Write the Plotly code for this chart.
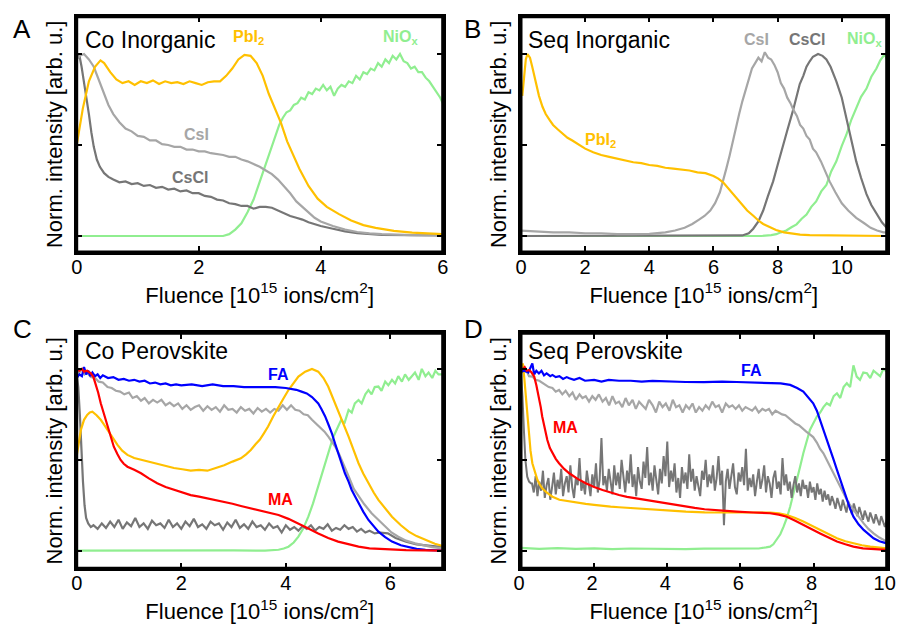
import plotly.graph_objects as go

# ---------------- Panel A : Co Inorganic ----------------
A_PbI2_x = [0, 0.1, 0.2, 0.3, 0.39, 0.45, 0.55, 0.65, 0.75, 0.85, 0.95, 1.05, 1.15, 1.25, 1.35, 1.45, 1.55, 1.65, 1.75, 1.85, 1.95, 2.05, 2.15, 2.25, 2.35, 2.45, 2.55, 2.65, 2.75, 2.85, 2.95, 3.05, 3.15, 3.25, 3.35, 3.45, 3.55, 3.65, 3.8, 3.95, 4.1, 4.3, 4.5, 4.7, 4.9, 5.2, 5.5, 5.8, 6.0]
A_PbI2_y = [0.50, 0.70, 0.85, 0.93, 0.965, 0.95, 0.90, 0.86, 0.84, 0.85, 0.83, 0.85, 0.84, 0.855, 0.835, 0.85, 0.84, 0.845, 0.835, 0.85, 0.84, 0.83, 0.845, 0.85, 0.85, 0.88, 0.92, 0.97, 0.995, 0.99, 0.95, 0.88, 0.78, 0.70, 0.62, 0.52, 0.44, 0.37, 0.275, 0.205, 0.16, 0.12, 0.085, 0.06, 0.045, 0.028, 0.018, 0.012, 0.01]

A_CsI_x = [0, 0.05, 0.12, 0.2, 0.28, 0.36, 0.45, 0.52, 0.6, 0.7, 0.8, 0.9, 1.0, 1.1, 1.2, 1.3, 1.4, 1.5, 1.6, 1.7, 1.8, 1.9, 2.0, 2.1, 2.2, 2.3, 2.4, 2.5, 2.6, 2.7, 2.8, 2.9, 3.0, 3.1, 3.2, 3.3, 3.4, 3.5, 3.6, 3.7, 3.8, 3.9, 4.0, 4.2, 4.4, 4.6, 4.8, 5.0, 5.5, 6.0]
A_CsI_y = [0.97, 0.99, 1.0, 0.97, 0.93, 0.86, 0.78, 0.72, 0.67, 0.625, 0.59, 0.575, 0.55, 0.545, 0.525, 0.525, 0.505, 0.5, 0.49, 0.49, 0.475, 0.475, 0.465, 0.465, 0.455, 0.45, 0.445, 0.435, 0.435, 0.42, 0.41, 0.395, 0.38, 0.36, 0.34, 0.31, 0.275, 0.235, 0.19, 0.16, 0.125, 0.10, 0.08, 0.055, 0.035, 0.022, 0.014, 0.01, 0.005, 0.003]

A_CsCl_x = [0, 0.04, 0.08, 0.12, 0.16, 0.2, 0.24, 0.28, 0.33, 0.38, 0.45, 0.52, 0.6, 0.7, 0.8, 0.9, 1.0, 1.1, 1.2, 1.3, 1.4, 1.5, 1.6, 1.7, 1.8, 1.9, 2.0, 2.1, 2.2, 2.3, 2.4, 2.5, 2.6, 2.7, 2.8, 2.9, 3.0, 3.1, 3.2, 3.3, 3.4, 3.5, 3.6, 3.7, 3.8, 3.9, 4.0, 4.2, 4.4, 4.6, 4.8, 5.0, 5.5, 6.0]
A_CsCl_y = [0.98, 1.0, 0.93, 0.85, 0.76, 0.67, 0.57, 0.49, 0.42, 0.38, 0.345, 0.325, 0.31, 0.295, 0.30, 0.285, 0.29, 0.275, 0.28, 0.265, 0.27, 0.255, 0.26, 0.245, 0.25, 0.235, 0.235, 0.22, 0.215, 0.2, 0.195, 0.18, 0.175, 0.165, 0.165, 0.15, 0.16, 0.16, 0.155, 0.14, 0.125, 0.11, 0.10, 0.09, 0.075, 0.065, 0.055, 0.04, 0.025, 0.015, 0.01, 0.006, 0.004, 0.003]

A_NiOx_x = [0, 1.0, 2.0, 2.4, 2.5, 2.6, 2.7, 2.8, 2.9, 2.96, 3.02, 3.08, 3.14, 3.2, 3.26, 3.32, 3.38, 3.44, 3.5, 3.56, 3.62, 3.68, 3.74, 3.8, 3.86, 3.92, 3.98, 4.04, 4.1, 4.16, 4.22, 4.28, 4.34, 4.4, 4.46, 4.52, 4.58, 4.64, 4.7, 4.76, 4.82, 4.88, 4.94, 5.0, 5.06, 5.12, 5.18, 5.24, 5.3, 5.36, 5.42, 5.48, 5.54, 5.6, 5.66, 5.72, 5.78, 5.84, 5.9, 5.96, 6.0]
A_NiOx_y = [0.0, 0.0, 0.0, 0.0, 0.01, 0.035, 0.07, 0.13, 0.2, 0.26, 0.32, 0.37, 0.44, 0.5, 0.56, 0.61, 0.65, 0.68, 0.69, 0.72, 0.73, 0.76, 0.75, 0.79, 0.78, 0.81, 0.8, 0.83, 0.8, 0.82, 0.77, 0.81, 0.83, 0.82, 0.85, 0.84, 0.88, 0.86, 0.9, 0.89, 0.92, 0.91, 0.95, 0.93, 0.97, 0.95, 0.99, 0.97, 1.0, 0.96, 0.95, 0.92, 0.93, 0.9, 0.9, 0.87, 0.85, 0.82, 0.79, 0.76, 0.73]

# ---------------- Panel B : Seq Inorganic ----------------
B_PbI2_x = [0.04, 0.1, 0.15, 0.2, 0.28, 0.35, 0.45, 0.56, 0.67, 0.77, 0.9, 1.0, 1.15, 1.3, 1.45, 1.6, 1.8, 2.0, 2.25, 2.5, 2.75, 3.0, 3.25, 3.5, 3.75, 4.0, 4.25, 4.5, 4.75, 5.0, 5.25, 5.5, 5.75, 6.0, 6.15, 6.3, 6.45, 6.6, 6.75, 6.9, 7.05, 7.25, 7.4, 7.55, 7.75, 7.95, 8.2, 8.4, 8.7, 9.0, 10.0, 11.4]
B_PbI2_y = [0.77, 0.9, 0.97, 1.0, 0.98, 0.93, 0.85, 0.77, 0.71, 0.67, 0.635, 0.61, 0.585, 0.56, 0.54, 0.525, 0.5, 0.48, 0.46, 0.445, 0.435, 0.425, 0.415, 0.405, 0.4, 0.39, 0.385, 0.375, 0.37, 0.365, 0.36, 0.35, 0.345, 0.33, 0.315, 0.295, 0.265, 0.23, 0.2, 0.17, 0.14, 0.11, 0.085, 0.066, 0.048, 0.033, 0.02, 0.014, 0.008, 0.005, 0.002, 0.0]

B_CsI_x = [0, 0.5, 1.0, 1.5, 2.0, 2.5, 3.0, 3.5, 4.0, 4.5, 4.8, 5.1, 5.34, 5.55, 5.72, 5.9, 6.05, 6.2, 6.3, 6.4, 6.5, 6.6, 6.7, 6.8, 6.9, 7.0, 7.1, 7.2, 7.3, 7.4, 7.5, 7.6, 7.7, 7.8, 7.9, 8.0, 8.1, 8.2, 8.3, 8.4, 8.5, 8.6, 8.7, 8.8, 8.9, 9.0, 9.1, 9.2, 9.35, 9.5, 9.62, 9.8, 10.0, 10.2, 10.45, 10.7, 10.9, 11.1, 11.3, 11.4]
B_CsI_y = [0.03, 0.025, 0.02, 0.02, 0.015, 0.015, 0.01, 0.01, 0.012, 0.02, 0.03, 0.045, 0.066, 0.09, 0.11, 0.14, 0.18, 0.24, 0.3, 0.37, 0.44, 0.52, 0.6, 0.67, 0.74, 0.8, 0.86, 0.92, 0.95, 0.98, 0.96, 1.01, 0.98, 0.97, 0.94, 0.9, 0.84, 0.81, 0.76, 0.73, 0.69, 0.66, 0.61, 0.59, 0.55, 0.53, 0.48, 0.46, 0.41, 0.35, 0.3, 0.24, 0.18, 0.14, 0.1, 0.07, 0.045, 0.03, 0.02, 0.02]

B_CsCl_x = [0, 6.5, 6.9, 7.1, 7.24, 7.4, 7.55, 7.7, 7.86, 8.0, 8.17, 8.3, 8.48, 8.6, 8.69, 8.8, 8.9, 9.0, 9.1, 9.26, 9.4, 9.52, 9.65, 9.83, 10.0, 10.14, 10.3, 10.45, 10.6, 10.77, 10.92, 11.08, 11.25, 11.4]
B_CsCl_y = [0.0, 0.0, 0.003, 0.015, 0.04, 0.08, 0.14, 0.22, 0.3, 0.39, 0.49, 0.58, 0.69, 0.78, 0.835, 0.88, 0.93, 0.96, 0.985, 1.0, 0.99, 0.97, 0.93, 0.85, 0.76, 0.65, 0.53, 0.41, 0.32, 0.23, 0.17, 0.12, 0.075, 0.045]

B_NiOx_x = [0, 7.5, 7.8, 7.96, 8.1, 8.27, 8.43, 8.59, 8.75, 8.9, 9.05, 9.2, 9.36, 9.52, 9.67, 9.83, 10.0, 10.14, 10.3, 10.45, 10.6, 10.77, 10.92, 11.08, 11.2, 11.34, 11.4]
B_NiOx_y = [0.0, 0.0, 0.005, 0.01, 0.02, 0.03, 0.048, 0.064, 0.095, 0.118, 0.16, 0.19, 0.245, 0.28, 0.355, 0.41, 0.495, 0.555, 0.64, 0.7, 0.765, 0.81, 0.875, 0.92, 0.965, 1.0, 0.97]

# ---------------- Panel C : Co Perovskite ----------------
C_FA_x = [0, 0.05, 0.1, 0.14, 0.18, 0.22, 0.26, 0.3, 0.35, 0.4, 0.45, 0.5, 0.6, 0.7, 0.8, 0.9, 1.0, 1.1, 1.2, 1.3, 1.4, 1.5, 1.6, 1.7, 1.8, 1.9, 2.0, 2.2, 2.4, 2.6, 2.8, 3.0, 3.2, 3.4, 3.6, 3.8, 4.0, 4.1, 4.2, 4.3, 4.4, 4.5, 4.56, 4.62, 4.68, 4.75, 4.82, 4.88, 4.94, 5.0, 5.07, 5.13, 5.2, 5.26, 5.33, 5.39, 5.48, 5.58, 5.68, 5.77, 5.9, 6.03, 6.2, 6.35, 6.5, 6.67, 7.0]
C_FA_y = [0.95, 0.97, 0.96, 1.01, 0.97, 0.99, 0.96, 0.98, 0.96, 0.97, 0.95, 0.965, 0.95, 0.955, 0.94, 0.945, 0.935, 0.94, 0.93, 0.935, 0.92, 0.925, 0.915, 0.92, 0.91, 0.915, 0.91, 0.915, 0.905, 0.915, 0.905, 0.905, 0.9, 0.9, 0.9, 0.9, 0.895, 0.89, 0.885, 0.875, 0.865, 0.845, 0.83, 0.81, 0.78, 0.74, 0.69, 0.646, 0.59, 0.536, 0.48, 0.426, 0.38, 0.334, 0.295, 0.261, 0.215, 0.169, 0.135, 0.105, 0.075, 0.05, 0.03, 0.018, 0.01, 0.004, 0.0]

C_Lgray_x = [0, 0.05, 0.1, 0.15, 0.2, 0.27, 0.35, 0.42, 0.5, 0.59, 0.67, 0.75, 0.83, 0.91, 1.0, 1.07, 1.15, 1.23, 1.3, 1.38, 1.46, 1.54, 1.62, 1.7, 1.78, 1.86, 1.94, 2.02, 2.1, 2.18, 2.26, 2.34, 2.42, 2.5, 2.58, 2.66, 2.74, 2.82, 2.9, 2.98, 3.06, 3.14, 3.22, 3.3, 3.38, 3.46, 3.54, 3.62, 3.7, 3.78, 3.86, 3.94, 4.02, 4.1, 4.18, 4.26, 4.34, 4.42, 4.5, 4.58, 4.66, 4.74, 4.82, 4.88, 4.95, 5.02, 5.1, 5.2, 5.3, 5.39, 5.5, 5.64, 5.78, 5.9, 6.02, 6.15, 6.3, 6.47, 6.65, 6.8, 7.0]
C_Lgray_y = [0.99, 0.98, 1.0, 0.97, 0.98, 0.955, 0.95, 0.93, 0.925, 0.9, 0.895, 0.88, 0.875, 0.86, 0.87, 0.84, 0.85, 0.825, 0.84, 0.81, 0.83, 0.815, 0.83, 0.8, 0.815, 0.795, 0.81, 0.78, 0.8, 0.775, 0.79, 0.8, 0.77, 0.795, 0.775, 0.79, 0.765, 0.8, 0.775, 0.78, 0.76, 0.79, 0.77, 0.78, 0.755, 0.785, 0.765, 0.78, 0.76, 0.78, 0.77, 0.8, 0.775, 0.8, 0.775, 0.77, 0.75, 0.745, 0.72, 0.7, 0.675, 0.655, 0.625, 0.6, 0.57, 0.53, 0.48, 0.41, 0.34, 0.3, 0.255, 0.206, 0.165, 0.132, 0.1, 0.077, 0.055, 0.04, 0.028, 0.02, 0.013]

C_PbI2_x = [0, 0.04, 0.08, 0.14, 0.2, 0.25, 0.3, 0.38, 0.46, 0.52, 0.59, 0.68, 0.78, 0.87, 0.97, 1.1, 1.23, 1.38, 1.54, 1.7, 1.86, 2.02, 2.18, 2.34, 2.5, 2.66, 2.82, 2.98, 3.14, 3.24, 3.33, 3.42, 3.5, 3.58, 3.66, 3.76, 3.86, 3.96, 4.05, 4.15, 4.24, 4.37, 4.5, 4.62, 4.72, 4.81, 4.9, 5.0, 5.1, 5.2, 5.3, 5.39, 5.48, 5.58, 5.68, 5.77, 5.9, 6.03, 6.2, 6.35, 6.5, 6.67, 6.85, 7.0]
C_PbI2_y = [0.52, 0.6, 0.665, 0.72, 0.747, 0.76, 0.765, 0.745, 0.72, 0.695, 0.664, 0.62, 0.582, 0.55, 0.527, 0.51, 0.5, 0.49, 0.48, 0.465, 0.455, 0.448, 0.44, 0.445, 0.44, 0.455, 0.47, 0.49, 0.508, 0.53, 0.554, 0.585, 0.61, 0.645, 0.683, 0.74, 0.793, 0.84, 0.884, 0.925, 0.958, 0.985, 1.0, 0.985, 0.95, 0.903, 0.84, 0.774, 0.7, 0.627, 0.55, 0.481, 0.425, 0.371, 0.32, 0.279, 0.23, 0.187, 0.14, 0.105, 0.08, 0.059, 0.038, 0.026]

C_MA_x = [0, 0.05, 0.1, 0.14, 0.2, 0.27, 0.32, 0.36, 0.41, 0.46, 0.52, 0.59, 0.65, 0.71, 0.78, 0.84, 0.9, 0.97, 1.1, 1.23, 1.38, 1.54, 1.7, 1.86, 2.02, 2.18, 2.34, 2.5, 2.66, 2.82, 2.98, 3.14, 3.3, 3.5, 3.7, 3.86, 4.05, 4.24, 4.43, 4.62, 4.81, 5.0, 5.2, 5.39, 5.6, 5.9, 6.3, 7.0]
C_MA_y = [1.0, 0.99, 1.0, 0.985, 0.99, 0.976, 0.955, 0.921, 0.87, 0.811, 0.75, 0.683, 0.625, 0.572, 0.53, 0.499, 0.478, 0.462, 0.445, 0.426, 0.398, 0.371, 0.35, 0.334, 0.32, 0.306, 0.297, 0.288, 0.279, 0.27, 0.258, 0.246, 0.235, 0.224, 0.21, 0.196, 0.175, 0.15, 0.122, 0.095, 0.07, 0.05, 0.034, 0.022, 0.013, 0.007, 0.003, 0.0]

C_Dgray_x = [0, 0.03, 0.06, 0.09, 0.12, 0.15, 0.18, 0.22, 0.27, 0.32, 0.4, 0.48, 0.56, 0.64, 0.72, 0.8, 0.88, 0.96, 1.04, 1.12, 1.2, 1.28, 1.36, 1.44, 1.52, 1.6, 1.68, 1.76, 1.84, 1.92, 2.0, 2.08, 2.16, 2.24, 2.32, 2.4, 2.48, 2.56, 2.64, 2.72, 2.8, 2.88, 2.96, 3.04, 3.12, 3.2, 3.28, 3.36, 3.44, 3.52, 3.6, 3.68, 3.76, 3.84, 3.92, 4.0, 4.08, 4.16, 4.24, 4.32, 4.4, 4.48, 4.56, 4.64, 4.72, 4.8, 4.88, 4.96, 5.04, 5.12, 5.2, 5.28, 5.36, 5.44, 5.52, 5.6, 5.7, 5.8, 5.95, 6.1, 6.3, 6.5, 6.7, 7.0]
C_Dgray_y = [0.97, 0.9, 0.75, 0.55, 0.38, 0.25, 0.18, 0.15, 0.13, 0.14, 0.12, 0.15, 0.125, 0.16, 0.13, 0.17, 0.12, 0.155, 0.135, 0.18, 0.13, 0.15, 0.12, 0.165, 0.14, 0.15, 0.125, 0.17, 0.13, 0.15, 0.12, 0.16, 0.135, 0.175, 0.13, 0.145, 0.12, 0.16, 0.14, 0.15, 0.115, 0.155, 0.13, 0.17, 0.125, 0.145, 0.12, 0.16, 0.13, 0.14, 0.115, 0.15, 0.125, 0.135, 0.1, 0.14, 0.115, 0.13, 0.11, 0.135, 0.12, 0.14, 0.11, 0.13, 0.12, 0.145, 0.11, 0.125, 0.115, 0.14, 0.12, 0.13, 0.105, 0.12, 0.1, 0.11, 0.095, 0.1, 0.095, 0.07, 0.05, 0.035, 0.028, 0.02]

C_NiOx_x = [0, 1.0, 2.0, 3.0, 3.6, 3.86, 3.96, 4.05, 4.15, 4.24, 4.33, 4.43, 4.52, 4.62, 4.71, 4.81, 4.9, 5.0, 5.06, 5.12, 5.2, 5.26, 5.32, 5.39, 5.45, 5.52, 5.58, 5.64, 5.7, 5.77, 5.83, 5.9, 5.96, 6.03, 6.09, 6.15, 6.22, 6.28, 6.35, 6.41, 6.47, 6.54, 6.6, 6.67, 6.73, 6.8, 6.86, 6.92, 7.0]
C_NiOx_y = [0.0, 0.002, 0.0, 0.002, 0.0, 0.005, 0.012, 0.022, 0.045, 0.077, 0.12, 0.187, 0.26, 0.352, 0.44, 0.536, 0.62, 0.683, 0.72, 0.7, 0.774, 0.76, 0.81, 0.829, 0.81, 0.86, 0.884, 0.86, 0.9, 0.903, 0.88, 0.93, 0.91, 0.94, 0.92, 0.96, 0.93, 0.97, 0.94, 0.96, 0.98, 0.94, 1.0, 0.96, 0.98, 0.95, 0.99, 0.97, 0.97]

# ---------------- Panel D : Seq Perovskite ----------------
D_FA_x = [0, 0.1, 0.2, 0.31, 0.36, 0.42, 0.49, 0.56, 0.63, 0.7, 0.8, 0.86, 0.95, 1.05, 1.15, 1.25, 1.32, 1.45, 1.6, 1.75, 2.0, 2.2, 2.4, 2.68, 3.0, 3.3, 3.6, 4.0, 4.5, 5.0, 5.5, 5.9, 6.3, 6.81, 7.1, 7.36, 7.55, 7.72, 7.85, 7.99, 8.09, 8.18, 8.27, 8.36, 8.45, 8.55, 8.64, 8.73, 8.82, 8.91, 9.0, 9.09, 9.23, 9.37, 9.5, 9.64, 9.8, 10.0]
D_FA_y = [0.985, 0.99, 0.98, 1.03, 0.97, 0.99, 0.975, 0.99, 0.965, 0.975, 0.96, 0.967, 0.955, 0.96, 0.945, 0.955, 0.949, 0.94, 0.95, 0.935, 0.94, 0.93, 0.94, 0.935, 0.935, 0.93, 0.934, 0.93, 0.928, 0.927, 0.93, 0.928, 0.925, 0.925, 0.92, 0.912, 0.895, 0.875, 0.845, 0.811, 0.77, 0.719, 0.665, 0.609, 0.555, 0.499, 0.445, 0.389, 0.33, 0.279, 0.23, 0.187, 0.145, 0.114, 0.09, 0.068, 0.052, 0.04]

D_Lgray_x = [0, 0.08, 0.15, 0.22, 0.31, 0.4, 0.5, 0.6, 0.68, 0.76, 0.86, 0.95, 1.04, 1.13, 1.22, 1.32, 1.41, 1.5, 1.6, 1.68, 1.77, 1.86, 1.95, 2.04, 2.13, 2.23, 2.32, 2.41, 2.5, 2.59, 2.68, 2.77, 2.86, 2.95, 3.05, 3.14, 3.23, 3.32, 3.41, 3.5, 3.6, 3.69, 3.78, 3.87, 3.96, 4.06, 4.15, 4.24, 4.33, 4.42, 4.51, 4.6, 4.69, 4.78, 4.87, 4.96, 5.05, 5.14, 5.23, 5.32, 5.41, 5.5, 5.6, 5.69, 5.78, 5.87, 5.96, 6.05, 6.14, 6.23, 6.32, 6.41, 6.5, 6.6, 6.69, 6.78, 6.87, 6.96, 7.05, 7.14, 7.23, 7.32, 7.41, 7.5, 7.6, 7.7, 7.8, 7.9, 7.99, 8.09, 8.18, 8.27, 8.36, 8.45, 8.55, 8.64, 8.73, 8.82, 8.91, 9.0, 9.09, 9.23, 9.37, 9.5, 9.64, 9.8, 10.0]
D_Lgray_y = [1.0, 0.98, 0.99, 0.96, 0.958, 0.94, 0.935, 0.92, 0.912, 0.9, 0.895, 0.875, 0.884, 0.86, 0.88, 0.85, 0.87, 0.83, 0.86, 0.84, 0.85, 0.82, 0.85, 0.83, 0.86, 0.82, 0.84, 0.8, 0.85, 0.81, 0.82, 0.79, 0.84, 0.8, 0.83, 0.78, 0.82, 0.8, 0.78, 0.83, 0.8, 0.76, 0.82, 0.79, 0.81, 0.77, 0.83, 0.79, 0.8, 0.76, 0.8, 0.78, 0.81, 0.76, 0.79, 0.77, 0.8, 0.78, 0.82, 0.79, 0.8, 0.76, 0.81, 0.79, 0.8, 0.78, 0.8, 0.77, 0.79, 0.78, 0.77, 0.79, 0.76, 0.78, 0.77, 0.78, 0.75, 0.77, 0.76, 0.75, 0.745, 0.73, 0.72, 0.7, 0.69, 0.67, 0.655, 0.64, 0.625, 0.595, 0.56, 0.536, 0.5, 0.46, 0.426, 0.39, 0.35, 0.316, 0.28, 0.25, 0.224, 0.185, 0.15, 0.12, 0.095, 0.072, 0.05]

D_MA_x = [0.05, 0.1, 0.16, 0.22, 0.29, 0.36, 0.42, 0.49, 0.54, 0.58, 0.65, 0.72, 0.79, 0.86, 0.95, 1.04, 1.18, 1.32, 1.55, 1.77, 2.0, 2.23, 2.45, 2.68, 2.9, 3.14, 3.37, 3.6, 3.83, 4.06, 4.28, 4.51, 4.75, 5.02, 5.45, 5.9, 6.35, 6.81, 7.05, 7.27, 7.5, 7.72, 7.95, 8.18, 8.41, 8.64, 8.87, 9.09, 9.35, 9.6, 10.0]
D_MA_y = [1.0, 1.01, 0.99, 0.994, 0.98, 0.958, 0.91, 0.848, 0.79, 0.738, 0.67, 0.609, 0.565, 0.536, 0.505, 0.481, 0.45, 0.426, 0.395, 0.371, 0.35, 0.334, 0.32, 0.306, 0.296, 0.288, 0.278, 0.27, 0.263, 0.257, 0.25, 0.242, 0.235, 0.228, 0.22, 0.215, 0.21, 0.206, 0.198, 0.187, 0.165, 0.141, 0.118, 0.095, 0.072, 0.05, 0.035, 0.022, 0.013, 0.008, 0.004]

D_PbI2_x = [0.0, 0.05, 0.09, 0.13, 0.17, 0.22, 0.26, 0.31, 0.38, 0.45, 0.51, 0.58, 0.7, 0.86, 1.05, 1.32, 1.55, 1.77, 2.0, 2.23, 2.45, 2.68, 2.9, 3.14, 3.37, 3.6, 4.06, 4.51, 5.02, 5.45, 5.9, 6.35, 6.81, 7.05, 7.27, 7.5, 7.72, 7.95, 8.18, 8.41, 8.64, 8.87, 9.09, 9.32, 9.55, 9.8, 10.0]
D_PbI2_y = [0.98, 1.03, 0.95, 0.848, 0.74, 0.628, 0.55, 0.481, 0.43, 0.389, 0.365, 0.343, 0.32, 0.297, 0.28, 0.27, 0.263, 0.257, 0.252, 0.246, 0.242, 0.239, 0.236, 0.233, 0.23, 0.226, 0.22, 0.215, 0.211, 0.212, 0.209, 0.21, 0.209, 0.205, 0.196, 0.18, 0.16, 0.137, 0.114, 0.09, 0.068, 0.052, 0.04, 0.03, 0.022, 0.017, 0.013]

D_Dgray_x = [0, 0.04, 0.08, 0.12, 0.17, 0.22, 0.27,
             0.3, 0.35, 0.4, 0.45, 0.5, 0.55, 0.6, 0.65, 0.7, 0.75,
             0.8, 0.85, 0.9, 0.95, 1.0, 1.05, 1.1, 1.15, 1.2, 1.25,
             1.3, 1.35, 1.4, 1.45, 1.5, 1.55, 1.6, 1.65, 1.7, 1.75,
             1.8, 1.85, 1.9, 1.95, 2.0, 2.05, 2.1, 2.15, 2.2, 2.25,
             2.3, 2.35, 2.4, 2.45, 2.5, 2.55, 2.6, 2.65, 2.7, 2.75,
             2.8, 2.85, 2.9, 2.95, 3.0, 3.05, 3.1, 3.15, 3.2, 3.25,
             3.3, 3.35, 3.4, 3.45, 3.5, 3.55, 3.6, 3.65, 3.7, 3.75,
             3.8, 3.85, 3.9, 3.95, 4.0, 4.05, 4.1, 4.15, 4.2, 4.25,
             4.3, 4.35, 4.4, 4.45, 4.5, 4.55, 4.6, 4.65, 4.7, 4.75,
             4.8, 4.85, 4.9, 4.95, 5.0, 5.05, 5.1, 5.15, 5.2, 5.25,
             5.3, 5.35, 5.4, 5.45, 5.5, 5.55, 5.6, 5.65, 5.7, 5.75,
             5.8, 5.85, 5.9, 5.95, 6.0, 6.05, 6.1, 6.15, 6.2, 6.25,
             6.3, 6.35, 6.4, 6.45, 6.5, 6.55, 6.6, 6.65, 6.7, 6.75,
             6.8, 6.85, 6.9, 6.95, 7.0, 7.05, 7.1, 7.15, 7.2, 7.25,
             7.3, 7.35, 7.4, 7.45, 7.5, 7.55, 7.6, 7.65, 7.7, 7.75,
             7.8, 7.85, 7.9, 7.95, 8.0, 8.05, 8.1, 8.15, 8.2, 8.25,
             8.3, 8.35, 8.4, 8.45, 8.5, 8.55, 8.6, 8.65, 8.7, 8.75,
             8.8, 8.85, 8.9, 8.95, 9.0, 9.05, 9.1, 9.15, 9.2, 9.25,
             9.3, 9.35, 9.4, 9.45, 9.5, 9.55, 9.6, 9.65, 9.7, 9.75,
             9.8, 9.85, 9.9, 9.95, 10.0]
D_Dgray_y = [0.97, 0.85, 0.66, 0.5, 0.407, 0.38, 0.371,
             0.37, 0.32, 0.41, 0.30, 0.38, 0.33, 0.44, 0.29, 0.36, 0.40,
             0.28, 0.35, 0.43, 0.31, 0.39, 0.34, 0.45, 0.30, 0.37, 0.41,
             0.32, 0.47, 0.35, 0.29, 0.40, 0.36, 0.51, 0.33, 0.38, 0.31,
             0.44, 0.37, 0.30, 0.42, 0.35, 0.48, 0.32, 0.39, 0.62, 0.36,
             0.41, 0.33, 0.45, 0.38, 0.31, 0.47, 0.36, 0.43, 0.34, 0.50,
             0.39, 0.32, 0.44, 0.37, 0.53, 0.35, 0.42, 0.30, 0.46, 0.38,
             0.34, 0.49, 0.40, 0.57, 0.36, 0.43, 0.33, 0.47, 0.39, 0.31,
             0.45, 0.37, 0.52, 0.41, 0.60, 0.35, 0.44, 0.38, 0.48, 0.32,
             0.40, 0.29, 0.46, 0.37, 0.43, 0.34, 0.53, 0.38, 0.45, 0.33,
             0.41, 0.36, 0.30, 0.44, 0.39, 0.50, 0.35, 0.42, 0.37, 0.47,
             0.33, 0.40, 0.52, 0.36, 0.44, 0.14, 0.38, 0.45, 0.34, 0.41,
             0.48, 0.35, 0.31, 0.43, 0.38, 0.46, 0.36, 0.56, 0.33, 0.40,
             0.35, 0.42, 0.30, 0.38, 0.45, 0.34, 0.39, 0.47, 0.32, 0.41,
             0.37, 0.29, 0.40, 0.44, 0.34, 0.38, 0.31, 0.51, 0.36, 0.42,
             0.33, 0.38, 0.29, 0.36, 0.41, 0.32, 0.37, 0.30, 0.39, 0.34,
             0.36, 0.29, 0.38, 0.32, 0.35, 0.28, 0.37, 0.31, 0.34, 0.27,
             0.33, 0.28, 0.31, 0.25, 0.30, 0.27, 0.23, 0.29, 0.26, 0.22,
             0.28, 0.24, 0.21, 0.27, 0.23, 0.20, 0.26, 0.22, 0.19, 0.24,
             0.20, 0.17, 0.22, 0.19, 0.16, 0.21, 0.18, 0.15, 0.20, 0.17,
             0.14, 0.19, 0.16, 0.13, 0.17]

D_NiOx_x = [0, 0.5, 1.0, 1.5, 2.0, 2.5, 3.0, 3.5, 4.0, 4.5, 5.0, 5.5, 6.0, 6.5, 6.7, 6.81, 6.9, 6.99, 7.09, 7.18, 7.27, 7.36, 7.45, 7.54, 7.63, 7.72, 7.81, 7.9, 7.99, 8.09, 8.18, 8.27, 8.36, 8.45, 8.55, 8.64, 8.73, 8.82, 8.91, 9.0, 9.09, 9.18, 9.27, 9.36, 9.46, 9.55, 9.64, 9.73, 9.82, 9.91, 10.0]
D_NiOx_y = [0.015, 0.01, 0.014, 0.01, 0.013, 0.009, 0.012, 0.01, 0.012, 0.009, 0.011, 0.01, 0.012, 0.012, 0.018, 0.022, 0.035, 0.059, 0.09, 0.132, 0.18, 0.242, 0.31, 0.389, 0.46, 0.536, 0.6, 0.664, 0.7, 0.738, 0.76, 0.79, 0.811, 0.8, 0.85, 0.866, 0.84, 0.9, 0.921, 0.9, 1.02, 0.958, 0.94, 0.98, 0.976, 0.95, 0.99, 0.976, 0.96, 1.0, 0.985]

# ---------------- styling ----------------
ORANGE = "#FFC000"
LGRAY = "#A6A6A6"
DGRAY = "#767676"
GREEN = "#90EE90"
BLUE = "#0000FF"
RED = "#FF0000"
FONT = "Liberation Sans, Arial, Helvetica, sans-serif"

fig = go.Figure()

def add(x, y, color, ax, w=2.2):
    xa = "x" if ax == 1 else f"x{ax}"
    ya = "y" if ax == 1 else f"y{ax}"
    fig.add_trace(go.Scatter(x=x, y=y, mode="lines", line=dict(color=color, width=w),
                             xaxis=xa, yaxis=ya, showlegend=False, hoverinfo="skip"))

# Panel A
add(A_NiOx_x, A_NiOx_y, GREEN, 1)
add(A_CsCl_x, A_CsCl_y, DGRAY, 1)
add(A_CsI_x, A_CsI_y, LGRAY, 1)
add(A_PbI2_x, A_PbI2_y, ORANGE, 1)
# Panel B
add(B_NiOx_x, B_NiOx_y, GREEN, 2)
add(B_CsCl_x, B_CsCl_y, DGRAY, 2)
add(B_CsI_x, B_CsI_y, LGRAY, 2)
add(B_PbI2_x, B_PbI2_y, ORANGE, 2)
# Panel C
add(C_NiOx_x, C_NiOx_y, GREEN, 3)
add(C_Dgray_x, C_Dgray_y, DGRAY, 3)
add(C_Lgray_x, C_Lgray_y, LGRAY, 3)
add(C_PbI2_x, C_PbI2_y, ORANGE, 3)
add(C_FA_x, C_FA_y, BLUE, 3)
add(C_MA_x, C_MA_y, RED, 3)
# Panel D
add(D_NiOx_x, D_NiOx_y, GREEN, 4)
add(D_Dgray_x, D_Dgray_y, DGRAY, 4, 2.0)
add(D_Lgray_x, D_Lgray_y, LGRAY, 4)
add(D_PbI2_x, D_PbI2_y, ORANGE, 4)
add(D_FA_x, D_FA_y, BLUE, 4)
add(D_MA_x, D_MA_y, RED, 4)

# the page body margin is removed by a post script, so figure px == window px
W, H = 898, 625
def dom_x(a, b):
    return [a / W, b / W]
def dom_y(top, bottom):
    return [1 - bottom / H, 1 - top / H]

xtitle = "Fluence [10<sup>15</sup> ions/cm<sup>2</sup>]"
ytitle = "Norm. intensity [arb. u.]"

common_x = dict(showline=True, linewidth=2.5, linecolor="black", mirror="ticks",
                ticks="inside", ticklen=6, tickwidth=2, tickcolor="black",
                showgrid=False, zeroline=False,
                tickfont=dict(family=FONT, size=20, color="black"),
                ticklabelstandoff=-5, ticklabeloverflow="allow",
                title=dict(text=xtitle, font=dict(family=FONT, size=22, color="black"), standoff=11),
                automargin=False)
common_y = dict(showline=True, linewidth=2.5, linecolor="black", mirror="ticks",
                ticks="inside", ticklen=6, tickwidth=2, tickcolor="black",
                showgrid=False, zeroline=False, showticklabels=False,
                tickvals=[0, 0.5, 1],
                title=dict(text=ytitle, font=dict(family=FONT, size=22, color="black"), standoff=6),
                automargin=False)

yrA = [-0.088, 1.205]
yrC = [-0.097, 1.196]

fig.update_layout(
    width=W, height=H,
    margin=dict(l=0, r=0, t=0, b=0),
    paper_bgcolor="white", plot_bgcolor="white",
    font=dict(family=FONT, color="black"),
    hovermode=False,
    xaxis=dict(common_x, domain=dom_x(76.7, 442.7), range=[0, 6], tickvals=[0, 2, 4, 6], anchor="y"),
    yaxis=dict(common_y, domain=dom_y(16.7, 252), range=yrA, anchor="x"),
    xaxis2=dict(common_x, domain=dom_x(521, 886.7), range=[0, 11.4], tickvals=[0, 2, 4, 6, 8, 10], anchor="y2"),
    yaxis2=dict(common_y, domain=dom_y(16.7, 252), range=yrA, anchor="x2"),
    xaxis3=dict(common_x, domain=dom_x(76.7, 442.7), range=[0, 7], tickvals=[0, 2, 4, 6], anchor="y3"),
    yaxis3=dict(common_y, domain=dom_y(333.3, 568.3), range=yrC, anchor="x3"),
    xaxis4=dict(common_x, domain=dom_x(521, 886.7), range=[0, 10], tickvals=[0, 2, 4, 6, 8, 10],
                anchor="y4", ticklabelshift=-2),
    yaxis4=dict(common_y, domain=dom_y(333.3, 568.3), range=yrC, anchor="x4"),
)

# explicit frames around every panel
shapes = []
for i in ["", "2", "3", "4"]:
    shapes.append(dict(type="rect", xref=f"x{i} domain", yref=f"y{i} domain", x0=0, x1=1, y0=0, y1=1,
                       line=dict(color="black", width=3), layer="above"))
fig.update_layout(shapes=shapes)

ann = []
def lab(text, x, y, color, ax, size=16):
    xr = "x" if ax == 1 else f"x{ax}"
    yr = "y" if ax == 1 else f"y{ax}"
    ann.append(dict(text=f"<b>{text}</b>", x=x, y=y, xref=xr, yref=yr, showarrow=False,
                    font=dict(family=FONT, size=size, color=color), xanchor="center", yanchor="middle"))

def ptext(text, px, py, size, xanchor="left"):
    ann.append(dict(text=text, x=px / W, y=1 - py / H, xref="paper", yref="paper",
                    showarrow=False, font=dict(family=FONT, size=size, color="black"),
                    xanchor=xanchor, yanchor="middle"))

# species labels
lab("PbI<sub>2</sub>", 2.81, 1.088, ORANGE, 1)
lab("NiO<sub>x</sub>", 5.3, 1.088, GREEN, 1)
lab("CsI", 1.96, 0.56, LGRAY, 1)
lab("CsCl", 1.86, 0.32, DGRAY, 1)
lab("CsI", 7.33, 1.082, LGRAY, 2)
lab("CsCl", 8.92, 1.082, DGRAY, 2)
lab("NiO<sub>x</sub>", 10.7, 1.082, GREEN, 2)
lab("PbI<sub>2</sub>", 2.49, 0.527, ORANGE, 2)
lab("FA", 3.86, 0.972, BLUE, 3)
lab("MA", 3.89, 0.279, RED, 3)
lab("FA", 6.3, 0.989, BLUE, 4)
lab("MA", 1.23, 0.675, RED, 4)

# panel titles and letters
ptext("Co Inorganic", 83, 40, 23)
ptext("Seq Inorganic", 526, 40, 23)
ptext("Co Perovskite", 83, 351, 23)
ptext("Seq Perovskite", 526, 351, 23)
ptext("A", 22, 29, 26, "center")
ptext("B", 472, 29, 26, "center")
ptext("C", 22, 329, 26, "center")
ptext("D", 473, 329, 26, "center")

fig.update_layout(annotations=ann)
fig.write_html("out.html", config={"displayModeBar": False},
               post_script="document.body.style.margin='0';document.body.style.overflow='hidden';")
